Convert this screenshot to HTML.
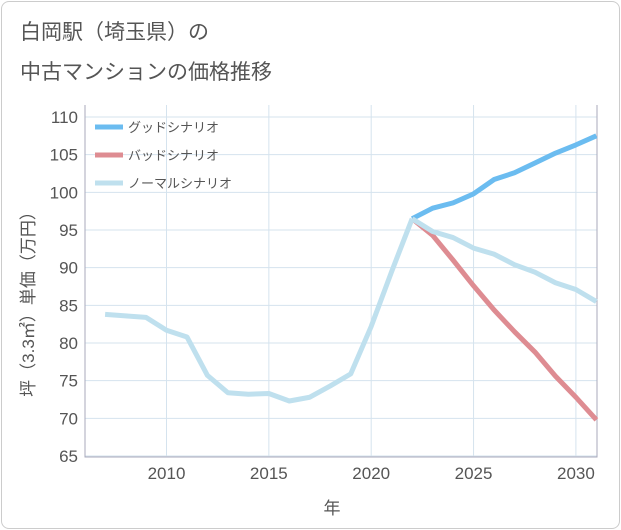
<!DOCTYPE html>
<html><head><meta charset="utf-8"><style>
body{margin:0;background:#fff;font-family:"Liberation Sans","Noto Sans CJK JP",sans-serif}
#card{position:absolute;left:1px;top:1px;width:617px;height:526px;border:1px solid #ccc;border-radius:8px;background:#fff}
.t{position:absolute;left:20px;font-size:21px;color:#555}
</style></head><body>
<div id="card"></div>
<div class="t" style="top:16px">白岡駅（埼玉県）の</div>
<div class="t" style="top:56px">中古マンションの価格推移</div>
<svg id="c" width="621" height="530" style="position:absolute;left:0;top:0"></svg>
<script>
const years=[2007,2008,2009,2010,2011,2012,2013,2014,2015,2016,2017,2018,2019,2020,2021,2022];
const histVals=[83.8,83.6,83.4,81.7,80.8,75.7,73.4,73.2,73.3,72.3,72.8,74.3,75.9,82.2,89.5,96.5];
const futYears=[2022,2023,2024,2025,2026,2027,2028,2029,2030,2031];
const goodVals=[96.5,97.9,98.6,99.8,101.7,102.6,103.9,105.2,106.3,107.5];
const badVals=[96.5,94.3,91.0,87.6,84.4,81.5,78.8,75.6,72.8,69.8];
const normVals=[96.5,94.8,94.0,92.6,91.8,90.4,89.4,88.0,87.1,85.5];
const yTicks=[65,70,75,80,85,90,95,100,105,110];
const xTicks=[2010,2015,2020,2025,2030];
const L=85,R=597,T=105,B=457;
const xs=v=>166.5+(v-2010)*20.47;
const ys=v=>456-(v-65)*7.533;
const svg=document.getElementById('c');const NS='http://www.w3.org/2000/svg';
function mk(tag,a,p){const e=document.createElementNS(NS,tag);for(const k in a)e.setAttribute(k,a[k]);(p||svg).appendChild(e);return e;}
yTicks.forEach(v=>{
 const l=mk('line',{x1:L,x2:R,y1:ys(v),y2:ys(v),stroke:'#d5e3ee','stroke-width':1});
 
 
 const t=mk('text',{x:78,y:ys(v)+6,'text-anchor':'end','font-size':17,fill:'#555'});t.textContent=v;
 
 
});
xTicks.forEach(v=>{
 const l=mk('line',{x1:xs(v),x2:xs(v),y1:T,y2:B,stroke:'#d5e3ee','stroke-width':1});
 
 
 const t=mk('text',{x:xs(v),y:479,'text-anchor':'middle','font-size':17,fill:'#555'});t.textContent=v;
 
 
});
const ax=mk('polyline',{points:`${L},${T} ${L},${B} ${R},${B} ${R},${T}`,fill:'none',stroke:'#aab','stroke-width':1});


function line(xv,yv,col,name){
 const p=mk('polyline',{points:xv.map((x,i)=>xs(x)+','+ys(yv[i])).join(' '),fill:'none',stroke:col,'stroke-width':5,'stroke-linejoin':'round'});
 
 
}
line(futYears,goodVals,'#6bbcf0','good-scenario-line');
line(futYears,badVals,'#de8c92','bad-scenario-line');
line(futYears,normVals,'#bfe0ee','normal-scenario-line');
line(years,histVals,'#bfe0ee','historical-price-line');
const leg=[['グッドシナリオ','#6bbcf0'],['バッドシナリオ','#de8c92'],['ノーマルシナリオ','#bfe0ee']];
leg.forEach((d,i)=>{
 const y=127+i*28;
 const l=mk('line',{x1:95,x2:123,y1:y,y2:y,stroke:d[1],'stroke-width':5});
 
 
 const t=mk('text',{x:128,y:y+5,'font-size':13,fill:'#555'});t.textContent=d[0];
 
 
});
const xt=mk('text',{x:332,y:514,'text-anchor':'middle','font-size':17,fill:'#555'});xt.textContent='年';


const yt=mk('text',{x:0,y:0,'text-anchor':'middle','font-size':17,fill:'#555',transform:'translate(34,300) rotate(-90)'});yt.textContent='坪（3.3㎡）単価（万円）';


</script>
</body></html>
